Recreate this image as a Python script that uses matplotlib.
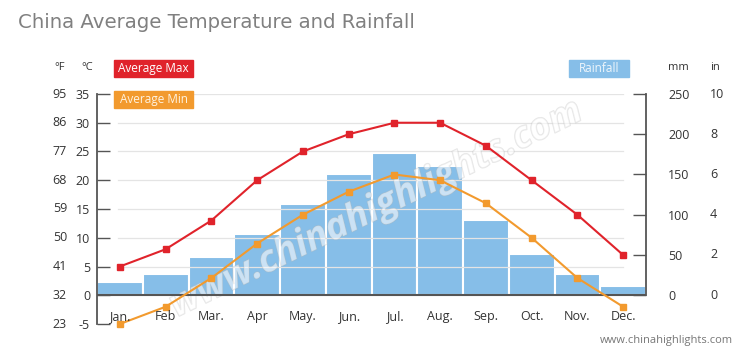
import matplotlib.pyplot as plt
import matplotlib.patheffects as pe
from matplotlib.patches import Rectangle
import matplotlib.transforms as mtransforms

# datos
meses = ['Jan.', 'Feb', 'Mar.', 'Apr', 'May.', 'Jun.', 'Jul.', 'Aug.', 'Sep.', 'Oct.', 'Nov.', 'Dec.']
temp_max = [5, 8, 13, 20, 25, 28, 30, 30, 26, 20, 14, 7]
temp_min = [-5, -2, 3, 9, 14, 18, 21, 20, 16, 10, 3, -2]
lluvia_mm = [16, 26, 47, 76, 113, 151, 177, 160, 93, 51, 27, 11]

ticks_c = [-5, 0, 5, 10, 15, 20, 25, 30, 35]
ticks_f = [23, 32, 41, 50, 59, 68, 77, 86, 95]
ticks_mm = [0, 50, 100, 150, 200, 250]
ticks_in = [0, 2, 4, 6, 8, 10]

rojo = '#e0232b'
naranja = '#f29a2e'
azul = '#86bee8'
gris = '#555555'

plt.rcParams['font.family'] = ['Open Sans', 'DejaVu Sans']

fig = plt.figure(figsize=(7.5, 3.51), dpi=100)
ax = fig.add_axes([97/750, 1-324/351, 549/750, 230/351])
ax2 = ax.twinx()

x = list(range(len(meses)))

# barras de lluvia
ax2.bar(x, lluvia_mm, width=1.0, color=azul, edgecolor='white', linewidth=1.5, zorder=1)
ax2.set_ylim(-5*250/35, 250)
ax2.set_xlim(-0.5, 11.5)

ax.set_zorder(ax2.get_zorder() + 1)
ax.patch.set_visible(False)
ax.set_xlim(-0.5, 11.5)
ax.set_ylim(-5, 35)

for t in ticks_c[2:]:
    ax.axhline(t, xmin=0.038, xmax=0.958, color='#e4e4e4', linewidth=0.9, zorder=0)
ax.axhline(0, color=gris, linewidth=1.5, zorder=3)

# marca de agua
ax.text(5.6, 15, 'www.chinahighlights.com', rotation=26, ha='center', va='center',
        fontsize=27, fontweight='bold', fontstyle='italic', color='white', alpha=0.35,
        path_effects=[pe.withStroke(linewidth=1.0, foreground='#b8b8b8')], zorder=2)

ax.plot(x, temp_max, color=rojo, linewidth=1.5, marker='s', markersize=4, zorder=4, clip_on=False)
ax.plot(x, temp_min, color=naranja, linewidth=1.5, marker='s', markersize=4, zorder=4, clip_on=False)

# ejes
for s in ['top', 'bottom', 'right']:
    ax.spines[s].set_visible(False)
for s in ['top', 'bottom', 'left']:
    ax2.spines[s].set_visible(False)
ax.spines['left'].set_color(gris)
ax.spines['left'].set_linewidth(1.3)
ax2.spines['right'].set_color(gris)
ax2.spines['right'].set_linewidth(1.3)
ax2.spines['right'].set_bounds(0, 250)

ax.set_xticks([])
ax.set_yticks(ticks_c)
ax.set_yticklabels([str(t) for t in ticks_c])
ax.tick_params(axis='y', direction='in', length=9.5, width=1, color=gris,
               labelsize=9, labelcolor='#333333', pad=5)
ax2.set_yticks(ticks_mm)
ax2.tick_params(axis='y', direction='in', length=9.5, width=1, color=gris,
                labelsize=9, labelcolor='#333333', pad=16)
for lbl in ax2.get_yticklabels():
    lbl.set_horizontalalignment('left')

tr_izq = mtransforms.blended_transform_factory(fig.transFigure, ax.transData)
for c, f in zip(ticks_c, ticks_f):
    fig.text(67/750, c, str(f), transform=tr_izq, ha='right', va='center', fontsize=9, color='#333333')

tr_der = mtransforms.blended_transform_factory(fig.transFigure, ax2.transData)
for m, i in zip(ticks_mm, ticks_in):
    fig.text(710/750, m, str(i), transform=tr_der, ha='left', va='center', fontsize=9, color='#333333')

for i, m in enumerate(meses):
    ax.text(i, -3.7, m, ha='center', va='center', fontsize=9, color='#333333', zorder=5)

# encabezados de unidades
fig.text(60/750, 1-68/351, '°F', ha='center', va='center', fontsize=8, color='#333333')
fig.text(87/750, 1-68/351, '°C', ha='center', va='center', fontsize=8, color='#333333')
fig.text(678/750, 1-68/351, 'mm', ha='center', va='center', fontsize=8, color='#333333')
fig.text(715/750, 1-68/351, 'in', ha='center', va='center', fontsize=8, color='#333333')

# cajas de leyenda
def caja(x0, y0, w, h, color, texto, color_txt):
    fig.patches.append(Rectangle((x0/750, 1-(y0+h)/351), w/750, h/351, color=color,
                                 transform=fig.transFigure, figure=fig, zorder=10))
    fig.text((x0+w/2)/750, 1-(y0+h/2)/351, texto, ha='center', va='center',
             fontsize=8.5, color=color_txt, zorder=11)

caja(114, 60, 79, 17, rojo, 'Average Max', 'white')
caja(114, 91, 79, 17, naranja, 'Average Min', '#fff3e0')
caja(569, 60, 60, 17, azul, 'Rainfall', '#eef6fc')

fig.text(18/750, 1-22/351, 'China Average Temperature and Rainfall', ha='left', va='center',
         fontsize=14.2, color='#808080', family='DejaVu Sans')
fig.text(733/750, 1-340/351, 'www.chinahighlights.com', ha='right', va='center',
         fontsize=8, color='#777777')

fig.savefig('out.png', dpi=100)
